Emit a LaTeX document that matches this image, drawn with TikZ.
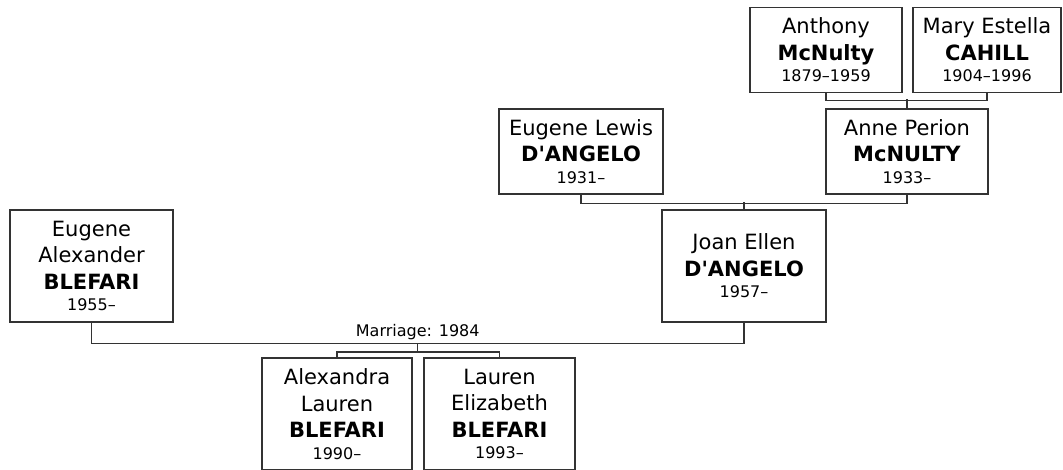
\documentclass[tikz,border=0pt]{standalone}
\usepackage{fontspec}
\setmainfont{DejaVu Sans}
\usepackage{tikz}
\usetikzlibrary{positioning}

\newcommand{\yrs}[1]{{\fontsize{16}{20}\selectfont #1}}

\tikzset{
  person/.style={draw=black!80, line width=1.3pt, fill=white, inner sep=0pt,
    align=center, font=\fontsize{21}{26.5}\selectfont},
  small/.style={minimum width=#1, minimum height=85pt},
  tall/.style={minimum width=#1, minimum height=112pt},
  link/.style={draw=black!80, line width=1.3pt},
}

\begin{document}
\begin{tikzpicture}[x=1pt, y=-1pt]
        \clip (0,0) rectangle (1063,469);
        % grandparents
        \node (anthony) [person, small=152pt] at (826,50) {Anthony\\\textbf{McNulty}\\[-5pt]\yrs{1879--1959}};
        \node (mary) [person, small=148pt] at (987,50) {Mary Estella\\\textbf{CAHILL}\\[-5pt]\yrs{1904--1996}};
        \node (anne) [person, small=162pt] at (907,151.5) {Anne Perion\\\textbf{McNULTY}\\[-5pt]\yrs{1933--}};
        \node (eugenel) [person, small=164pt] at (581,151.5) {Eugene Lewis\\\textbf{D\textquotesingle ANGELO}\\[-5pt]\yrs{1931--}};
        % parents
        \node (joan) [person, tall=164pt] at (744,266) {Joan Ellen\\\textbf{D\textquotesingle ANGELO}\\[-5pt]\yrs{1957--}};
        \node (eugenea) [person, tall=163pt] at (91.5,266) {Eugene\\Alexander\\\textbf{BLEFARI}\\[-5pt]\yrs{1955--}};
        % children
        \node (alexandra) [person, tall=150pt] at (337,414) {Alexandra\\Lauren\\\textbf{BLEFARI}\\[-5pt]\yrs{1990--}};
        \node (lauren) [person, tall=151pt] at (499.5,414) {Lauren\\Elizabeth\\\textbf{BLEFARI}\\[-5pt]\yrs{1993--}};

        \draw[link] (anthony.south) -- ++(0,7) -| (mary.south);
        \draw[link] (anne.north) -- ++(0,-9);
        \draw[link] (eugenel.south) -- ++(0,9) -| (anne.south);
        \draw[link] (joan.north) -- ++(0,-7);
        \draw[link] (eugenea.south) -- ++(0,21) -| (joan.south)
            node (marrlabel) [pos=0.25, above=0pt, font=\fontsize{16}{18}\selectfont] {Marriage: 1984};
        \coordinate (marr) at (417.5,343);
        \draw[link] (marr) -- ++(0,9) coordinate (kids);
        \draw[link] (alexandra.north) |- (kids) -| (lauren.north);
    \end{tikzpicture}
\end{document}
